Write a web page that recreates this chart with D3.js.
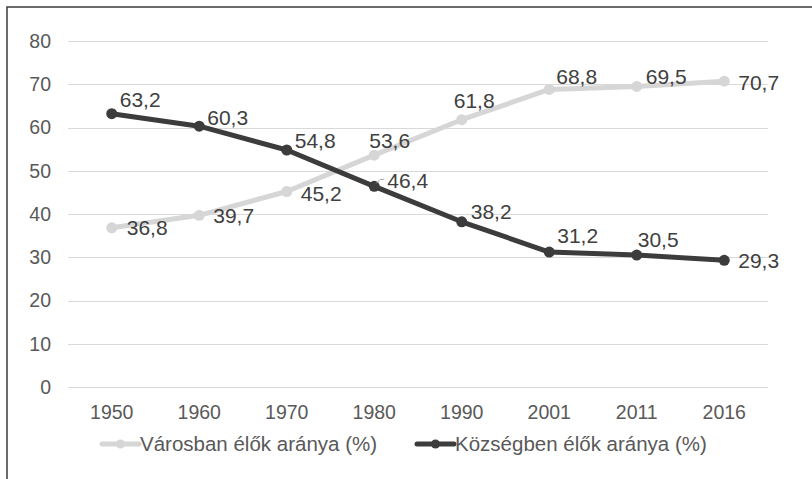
<!DOCTYPE html>
<html>
<head>
<meta charset="utf-8">
<script src="https://cdn.jsdelivr.net/npm/d3@7"></script>
<style>
  html, body { margin: 0; padding: 0; background: #fff; }
  svg { display: block; font-family: "Liberation Sans", Arial, sans-serif; }
</style>
</head>
<body>
<div id="chart"></div>
<script>
// ── Data ────────────────────────────────────────────────────────────────
const years = ["1950", "1960", "1970", "1980", "1990", "2001", "2011", "2016"];
const varosban = [36.8, 39.7, 45.2, 53.6, 61.8, 68.8, 69.5, 70.7];
const kozsegben = [63.2, 60.3, 54.8, 46.4, 38.2, 31.2, 30.5, 29.3];
const yTicks = [0, 10, 20, 30, 40, 50, 60, 70, 80];
const seriesNames = ["Városban élők aránya (%)", "Községben élők aránya (%)"];

(function () {
    const W = 812, H = 479;
    const left = 68, right = 768, top = 41, bottom = 387;

    const svg = d3.select("#chart").append("svg").attr("width", W).attr("height", H);

    // frame (cropped on the right and bottom in the original)
    svg.append("rect").attr("x", 7).attr("y", 7).attr("width", 900).attr("height", 900)
        .attr("fill", "none").attr("stroke", "#3a3a3a").attr("stroke-width", 1.5);

    const x = d3.scaleBand().domain(years).range([left, right]);
    const y = d3.scaleLinear().domain([0, 80]).range([bottom, top]);
    const cx = d => x(d) + x.bandwidth() / 2;

    // ── Grid + y labels ──────────────────────────────────────────────────
    const grid = svg.append("g");
    grid.selectAll("line").data(yTicks).join("line")
        .attr("x1", left).attr("x2", right)
        .attr("y1", d => Math.round(y(d)) + 0.5).attr("y2", d => Math.round(y(d)) + 0.5)
        .attr("stroke", "#d9d9d9").attr("stroke-width", 1);
    grid.selectAll("text").data(yTicks).join("text")
        .attr("x", 51).attr("y", d => y(d)).attr("dy", "0.35em")
        .attr("text-anchor", "end").attr("font-size", 19.5).attr("fill", "#595959")
        .text(d => d);

    // ── x labels ─────────────────────────────────────────────────────────
    svg.append("g").selectAll("text").data(years).join("text")
        .attr("x", cx).attr("y", 412).attr("dy", "0.35em")
        .attr("text-anchor", "middle").attr("font-size", 19.5).attr("fill", "#595959")
        .text(d => d);

    // ── Lines ────────────────────────────────────────────────────────────
    const series = [
        { name: seriesNames[0], values: varosban, color: "#d6d6d6" },
        { name: seriesNames[1], values: kozsegben, color: "#3c3c3c" }
    ];
    const line = d3.line().x((d, i) => cx(years[i])).y(d => y(d));

    series.forEach(s => {
        const g = svg.append("g");
        g.append("path").attr("d", line(s.values)).attr("fill", "none")
            .attr("stroke", s.color).attr("stroke-width", 5).attr("stroke-linejoin", "round");
        g.selectAll("circle").data(s.values).join("circle")
            .attr("cx", (d, i) => cx(years[i])).attr("cy", d => y(d)).attr("r", 5.5)
            .attr("fill", s.color);
    });

    // ── Data labels (hand-placed in the original, nudged from each point) ─
    const nudge = [
        [[15, 0], [14, 0], [14, 2], [-5, -15], [-8, -19], [7, -13], [9, -10], [14, 1]],
        [[8, -14], [8, -9], [8, -9], [13, -6], [9, -10], [8, -16], [1, -15], [14, 0]]
    ];
    const fmt = v => v.toFixed(1).replace(".", ",");

    // small leader line for 46,4
    const lx = cx("1980"), ly = y(kozsegben[3]);
    svg.append("path").attr("d", `M${lx + 2},${ly - 3} L${lx + 6},${ly - 7} L${lx + 10},${ly - 7}`)
        .attr("fill", "none").attr("stroke", "#a6a6a6").attr("stroke-width", 1);

    series.forEach((s, si) => {
        svg.append("g").selectAll("text").data(s.values).join("text")
            .attr("x", (d, i) => cx(years[i]) + nudge[si][i][0])
            .attr("y", (d, i) => y(d) + nudge[si][i][1])
            .attr("dy", "0.35em").attr("font-size", 21).attr("fill", "#404040")
            .text(fmt);
    });

    // ── Legend ───────────────────────────────────────────────────────────
    const legX = [102, 417];
    const legend = svg.append("g");
    series.forEach((s, i) => {
        const g = legend.append("g").attr("transform", `translate(${legX[i]},444)`);
        g.append("line").attr("x1", 0).attr("x2", 37).attr("stroke", s.color)
            .attr("stroke-width", 5).attr("stroke-linecap", "round");
        g.append("circle").attr("cx", 18.5).attr("r", 4.5).attr("fill", s.color);
        g.append("text").attr("x", 38).attr("dy", "0.35em").attr("font-size", 20.5)
            .attr("fill", "#595959").text(s.name);
    });
})();
</script>
</body>
</html>
